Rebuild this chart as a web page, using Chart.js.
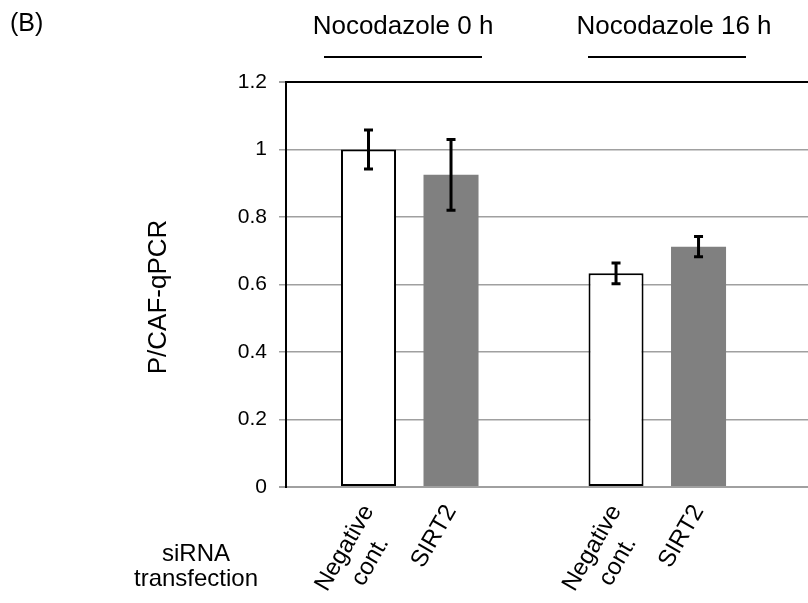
<!DOCTYPE html>
<html>
<head>
<meta charset="utf-8">
<script src="https://cdn.jsdelivr.net/npm/chart.js@4.4.1/dist/chart.umd.min.js"></script>
<style>
  html, body { margin: 0; padding: 0; background: #fff; overflow: hidden; }
  canvas { display: block; }
</style>
</head>
<body>
<canvas id="myChart" width="984" height="603"></canvas>
<script>
// data (blank slots are spacers between the groups)
// trailing spaces on "cont." keep the two-line label roughly centred
const categories = ['', ['Negative', 'cont.   '], 'SIRT2', '', ['Negative', 'cont.   '], 'SIRT2', '', '', ''];
const means = [null, 1.00, 0.925, null, 0.633, 0.712, null, null, null];
const errors = [null, 0.058, 0.105, null, 0.031, 0.030, null, null, null];
const yTicks = [0, 0.2, 0.4, 0.6, 0.8, 1, 1.2];
const groupTitles = ['Nocodazole 0 h', 'Nocodazole 16 h'];
const yTitle = 'P/CAF-qPCR';

const FONT = '"Liberation Sans", Arial, sans-serif';
const GRID = '#a0a0a0';

// error bars, drawn on top of the bars through the y scale
const errorBars = {
  id: 'errorBars',
  afterDatasetsDraw(chart) {
    const ctx = chart.ctx;
    const y = chart.scales.y;
    const meta = chart.getDatasetMeta(0);
    ctx.save();
    ctx.strokeStyle = '#000';
    ctx.lineWidth = 3;
    meta.data.forEach((bar, i) => {
      if (means[i] == null) return;
      const x = bar.x;
      const top = y.getPixelForValue(means[i] + errors[i]);
      const bot = y.getPixelForValue(means[i] - errors[i]);
      ctx.beginPath();
      ctx.moveTo(x, top); ctx.lineTo(x, bot);
      ctx.moveTo(x - 4.5, top); ctx.lineTo(x + 4.5, top);
      ctx.moveTo(x - 4.5, bot); ctx.lineTo(x + 4.5, bot);
      ctx.stroke();
    });
    ctx.restore();
  }
};

// panel letter, group headings, y title and the row caption
const annotations = {
  id: 'annotations',
  afterDraw(chart) {
    const ctx = chart.ctx;
    ctx.save();
    ctx.fillStyle = '#000';
    ctx.textBaseline = 'alphabetic';

    ctx.font = '25px ' + FONT;
    ctx.textAlign = 'left';
    ctx.fillText('(B)', 10, 31);

    ctx.font = '26px ' + FONT;
    ctx.textAlign = 'center';
    ctx.fillText(groupTitles[0], 403, 34);
    ctx.fillText(groupTitles[1], 674, 34);

    ctx.strokeStyle = '#000';
    ctx.lineWidth = 2;
    ctx.beginPath();
    ctx.moveTo(324, 57); ctx.lineTo(482, 57);
    ctx.moveTo(588, 57); ctx.lineTo(746, 57);
    ctx.stroke();

    ctx.font = '24px ' + FONT;
    ctx.fillText('siRNA', 196, 561);
    ctx.fillText('transfection', 196, 586);

    ctx.translate(159, 297);
    ctx.rotate(-Math.PI / 2);
    ctx.font = '26px ' + FONT;
    ctx.textBaseline = 'middle';
    ctx.fillText(yTitle, 0, 0);
    ctx.restore();
  }
};

new Chart(document.getElementById('myChart').getContext('2d'), {
  type: 'bar',
  data: {
    labels: categories,
    datasets: [{
      data: means,
      backgroundColor: ctx => categories[ctx.dataIndex] === 'SIRT2' ? '#808080' : '#ffffff',
      borderColor: '#000',
      borderWidth: ctx => categories[ctx.dataIndex] === 'SIRT2' ? 0 : 2,
      borderSkipped: false,
      categoryPercentage: 1,
      barPercentage: 0.667
    }]
  },
  options: {
    responsive: false,
    animation: false,
    layout: { padding: { left: 144, top: 82, right: 0, bottom: 0 } },
    plugins: { legend: { display: false }, tooltip: { enabled: false } },
    scales: {
      x: {
        offset: false,
        grid: { display: false, drawTicks: false },
        border: { display: true, color: GRID, width: 2 },
        ticks: {
          autoSkip: false,
          minRotation: 60,
          maxRotation: 60,
          padding: 13,
          color: '#000',
          font: { family: FONT, size: 24 }
        },
        afterFit: scale => { scale.height = 116; }
      },
      y: {
        min: 0,
        max: 1.2,
        afterBuildTicks: scale => { scale.ticks = yTicks.map(v => ({ value: v })); },
        grid: {
          color: ctx => ctx.tick && ctx.tick.value === 1.2 ? '#000' : GRID,
          lineWidth: ctx => ctx.tick && (ctx.tick.value === 1.2 || ctx.tick.value === 0) ? 2 : 1.5,
          tickColor: GRID,
          tickLength: 7
        },
        border: { display: true, color: '#000', width: 2 },
        ticks: {
          padding: 12,
          color: '#000',
          font: { family: FONT, size: 21 },
          callback: v => String(v)
        },
        afterFit: scale => { scale.width = 142; }
      }
    }
  },
  plugins: [errorBars, annotations]
});
</script>
</body>
</html>
